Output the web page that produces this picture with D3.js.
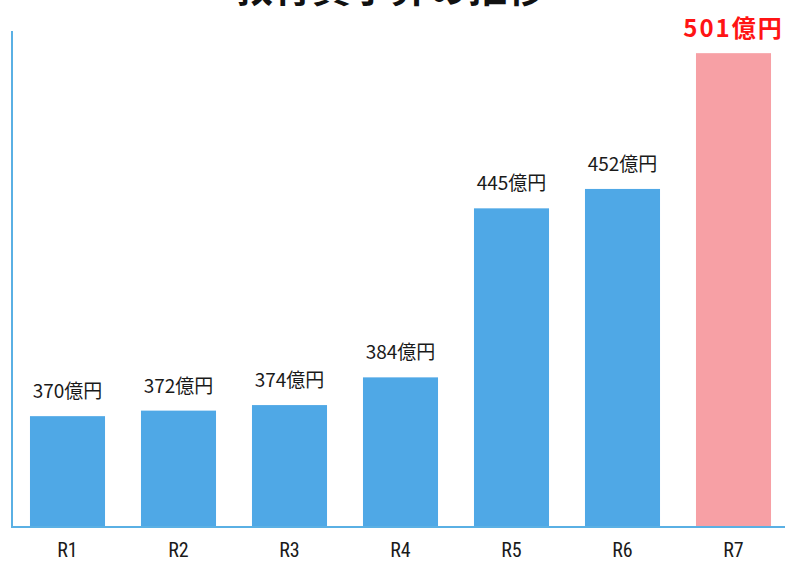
<!DOCTYPE html>
<html>
<head>
<meta charset="utf-8">
<script src="https://cdn.jsdelivr.net/npm/d3@7"></script>
<style>
  body { margin: 0; background: #fff; }
  svg { display: block; }
</style>
</head>
<body>
<div class="bar-chart"></div>
<script>
var categories = ["R1", "R2", "R3", "R4", "R5", "R6", "R7"];
var values = [370, 372, 374, 384, 445, 452, 501];
var valueLabels = ["370億円", "372億円", "374億円", "384億円", "445億円", "452億円", "501億円"];
var title = "教育費予算の推移";

var width = 789, height = 563;

var svg = d3.select(".bar-chart")
    .append("svg")
    .attr("width", width)
    .attr("height", height);

var x = d3.scaleBand()
    .domain(categories)
    .range([12, 789])
    .paddingInner(0.324)
    .paddingOuter(0.162);

// axis does not start at zero in the original
var y = d3.scaleLinear()
    .domain([330, 509])
    .range([527, 31]);

var jp = "'Noto Sans CJK JP', 'Noto Sans', sans-serif";

// title, mostly cut off at the top edge (like the scan)
svg.append("text")
    .attr("x", 390)
    .attr("y", 2)
    .attr("text-anchor", "middle")
    .style("font-family", jp)
    .style("font-weight", "bold")
    .style("font-size", "39px")
    .style("fill", "#111")
    .text(title);

svg.selectAll(".bar")
  .data(values)
  .enter().append("rect")
    .attr("class", "bar")
    .attr("x", function(d, i) { return x(categories[i]); })
    .attr("y", function(d) { return y(d); })
    .attr("width", x.bandwidth())
    .attr("height", function(d) { return y(330) - y(d); })
    .style("fill", function(d, i) { return i == values.length - 1 ? "#f7a0a5" : "#4fa8e6"; });

svg.selectAll(".value")
  .data(values)
  .enter().append("text")
    .attr("class", "value")
    .attr("x", function(d, i) { return x(categories[i]) + x.bandwidth() / 2; })
    .attr("y", function(d, i) { return y(d) - (i == values.length - 1 ? 16 : 18); })
    .attr("text-anchor", "middle")
    .style("font-family", jp)
    .style("font-size", function(d, i) { return i == values.length - 1 ? "24px" : "19px"; })
    .style("font-weight", function(d, i) { return i == values.length - 1 ? "bold" : "normal"; })
    .style("letter-spacing", function(d, i) { return i == values.length - 1 ? "2px" : "0"; })
    .style("fill", function(d, i) { return i == values.length - 1 ? "#ff1414" : "#1a1a1a"; })
    .text(function(d, i) { return valueLabels[i]; });

// axis lines
svg.append("line")
    .attr("x1", 12).attr("x2", 12)
    .attr("y1", 31).attr("y2", y(330))
    .style("stroke", "#5ab0e4")
    .style("stroke-width", 2);

svg.append("line")
    .attr("x1", 11).attr("x2", 785)
    .attr("y1", y(330)).attr("y2", y(330))
    .style("stroke", "#5ab0e4")
    .style("stroke-width", 2);

svg.selectAll(".cat")
  .data(categories)
  .enter().append("text")
    .attr("class", "cat")
    .attr("x", function(d) { return x(d) + x.bandwidth() / 2; })
    .attr("y", 557)
    .attr("text-anchor", "middle")
    .style("font-family", "'Roboto Condensed', 'Liberation Sans Narrow', 'Noto Sans', sans-serif")
    .style("font-size", "20px")
    .style("fill", "#1a1a1a")
    .text(function(d) { return d; });
</script>
</body>
</html>
